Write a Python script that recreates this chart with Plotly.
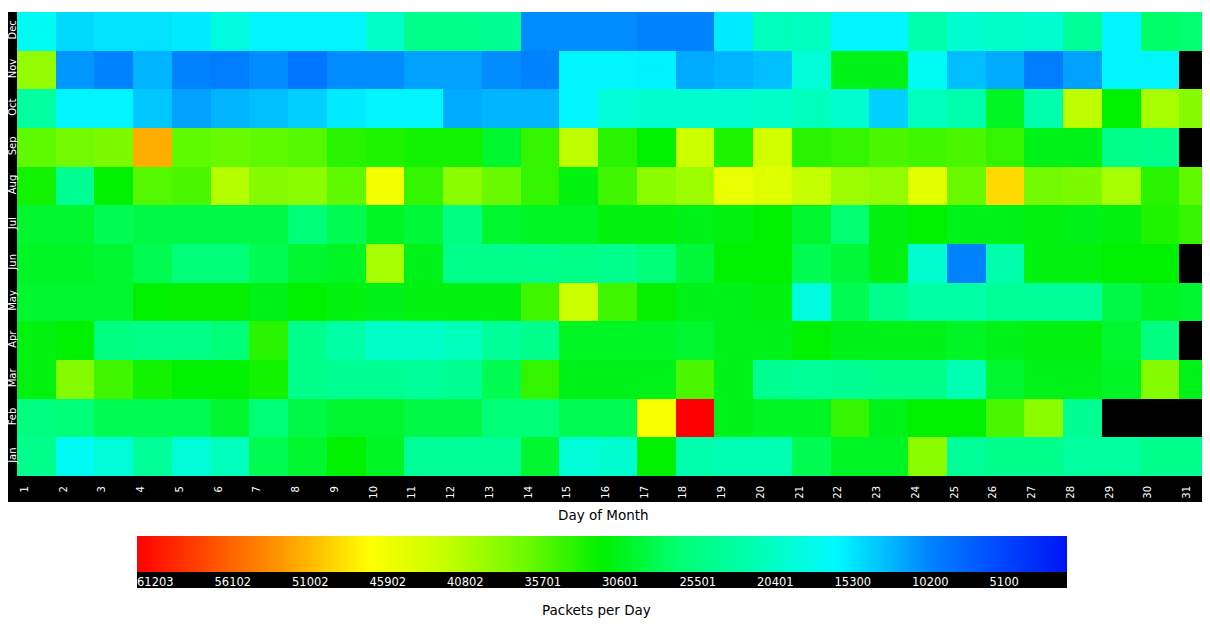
import numpy as np
import plotly.graph_objects as go

# page body has an 8px margin, so the figure is sized and positioned to compensate
OFF = 8
W, H = 1210 - OFF, 624 - OFF

months = ["Jan", "Feb", "Mar", "Apr", "May", "Jun", "Jul", "Aug", "Sep", "Oct", "Nov", "Dec"]
days = list(range(1, 32))
N = None

jan = [23500, 16000, 18000, 22500, 18000, 20000, 27000, 28500, 30500, 29000, 22500, 22500, 22500, 28500, 18000, 18500,
       30500, 21000, 20500, 20500, 27000, 29000, 29000, 37500, 22500, 23500, 23500, 22000, 22000, 23500, 23500]
feb = [24500, 25000, 27000, 27000, 27000, 28500, 25000, 27500, 28500, 28500, 27500, 27500, 25000, 25000, 27000, 27000,
       45500, 61203, 29500, 29000, 29000, 33000, 29500, 30500, 30500, 34000, 37500, 23000, N, N, N]
mar = [30000, 37000, 33500, 31500, 30500, 30500, 31500, 23500, 23000, 23000, 22500, 23000, 27000, 33000, 29500, 29500,
       29500, 34000, 29500, 23000, 22500, 23000, 23500, 23500, 20500, 28500, 29500, 29500, 29000, 37000, 29500]
apr = [30000, 30500, 24500, 24000, 24000, 25000, 32500, 23500, 21500, 19000, 19000, 20000, 22500, 23500, 29000, 29000,
       29000, 28500, 29500, 29500, 30500, 29500, 29500, 29500, 29000, 29500, 30000, 30000, 28500, 24500, N]
may = [28500, 28500, 28500, 30500, 30800, 30800, 29500, 30500, 30000, 29500, 30000, 30000, 30000, 33500, 41500, 33500,
       30800, 29500, 29500, 30000, 17500, 27000, 23500, 21500, 21500, 22500, 22500, 22500, 27500, 29000, 28500]
jun = [29000, 29000, 28500, 27000, 25000, 25000, 27000, 28500, 29000, 39000, 29500, 23500, 23500, 23500, 24000, 23500,
       25000, 28000, 30500, 30500, 27000, 28000, 30000, 18500, 9000, 21000, 30000, 30000, 30500, 30500, N]
jul = [28500, 28500, 27000, 27500, 27500, 27500, 27500, 25000, 27000, 29000, 28000, 24500, 28500, 29000, 29000, 30000,
       30000, 29500, 30000, 30500, 28500, 25500, 30000, 30500, 29500, 29500, 30000, 29500, 30000, 32000, 33000]
aug = [31500, 23000, 30600, 34500, 34000, 40000, 37000, 37500, 35000, 45000, 33000, 37500, 35500, 33000, 30000, 33500,
       37500, 38500, 44000, 43000, 41000, 38500, 38000, 43500, 35500, 48000, 36000, 36500, 39000, 32500, 35000]
sep = [35000, 36000, 36500, 50500, 35000, 35500, 35000, 34500, 32500, 32000, 31500, 31500, 28500, 33000, 40500, 32500,
       30600, 41500, 32000, 42000, 32500, 33000, 34000, 33500, 34000, 33000, 29500, 29500, 24000, 23500, N]
oct_ = [22000, 15000, 15000, 12500, 10500, 11500, 12000, 13000, 14500, 15000, 15000, 11000, 11500, 11500, 15000, 18000,
        18500, 18500, 18500, 19000, 20000, 18500, 13000, 20000, 21000, 29000, 21000, 40500, 30500, 39000, 37000]
nov = [38000, 10000, 9000, 11500, 9000, 8500, 9500, 8000, 9500, 9500, 10500, 10500, 9500, 9000, 15000, 15000,
       14800, 11000, 11500, 12000, 18000, 29500, 29500, 16000, 12000, 11000, 8500, 10500, 15000, 15000, N]
dec = [16000, 13500, 14000, 14000, 14500, 17500, 15000, 15000, 15000, 19000, 23500, 23500, 23000, 9500, 9500, 9500,
       9000, 9000, 14500, 20000, 19500, 15000, 15000, 21000, 18500, 19000, 18500, 22500, 15000, 26000, 25500]

z_rows = [jan, feb, mar, apr, may, jun, jul, aug, sep, oct_, nov, dec]

cb_ticks = [61203, 56102, 51002, 45902, 40802, 35701, 30601, 25501, 20401, 15300, 10200, 5100]
zmin, zmax = 0, 61203

colorscale = [
    [0.0, "rgb(0,20,245)"],
    [0.0833, "rgb(0,80,255)"],
    [0.147, "rgb(0,130,255)"],
    [0.196, "rgb(0,190,255)"],
    [0.25, "rgb(0,250,255)"],
    [0.333, "rgb(0,255,180)"],
    [0.4167, "rgb(0,255,115)"],
    [0.5, "rgb(0,240,0)"],
    [0.583, "rgb(110,250,0)"],
    [0.667, "rgb(195,255,0)"],
    [0.75, "rgb(255,255,0)"],
    [0.833, "rgb(255,165,0)"],
    [1.0, "rgb(255,0,0)"],
]

FONT = "DejaVu Sans"

fig = go.Figure()
fig.add_trace(go.Heatmap(
    z=z_rows, x=days, y=months, coloraxis="coloraxis",
    xaxis="x", yaxis="y", hoverongaps=False,
))

# gradient strip used as the horizontal legend bar
cb_vals = np.linspace(zmin, zmax, 600)
fig.add_trace(go.Heatmap(
    z=[cb_vals], x=cb_vals, y=[0], coloraxis="coloraxis",
    xaxis="x2", yaxis="y2", hoverinfo="skip",
))


def px(v):
    return (v - OFF) / W


def py(v):
    return 1 - (v - OFF) / H


fig.update_layout(
    width=W, height=H,
    margin=dict(l=0, r=0, t=0, b=0),
    paper_bgcolor="white", plot_bgcolor="black",
    showlegend=False,
    coloraxis=dict(colorscale=colorscale, cmin=zmin, cmax=zmax, showscale=False),
    xaxis=dict(
        domain=[px(17), 1.0], range=[0.5, 31.3], anchor="y",
        tickmode="array", tickvals=[d - 0.3 for d in days], ticktext=[str(d) for d in days],
        tickangle=-90, tickfont=dict(family=FONT, size=10, color="white"),
        ticks="", ticklabelstandoff=7, showgrid=False, zeroline=False, showline=False,
        automargin=False, fixedrange=True,
    ),
    yaxis=dict(
        domain=[py(476), py(12)], anchor="x",
        type="category", categoryorder="array", categoryarray=months,
        tickangle=-90, tickfont=dict(family=FONT, size=10, color="white"),
        ticks="", ticklabelstandoff=-2, showgrid=False, zeroline=False, showline=False,
        automargin=False, fixedrange=True,
    ),
    xaxis2=dict(
        domain=[px(137), px(1067)], range=[zmax, zmin], anchor="y2",
        tickmode="array", tickvals=cb_ticks, ticktext=[str(t) for t in cb_ticks],
        ticklabelposition="outside right",
        tickfont=dict(family=FONT, size=11.5, color="white"),
        ticks="", ticklabelstandoff=1, showgrid=False, zeroline=False, showline=False,
        automargin=False, fixedrange=True,
    ),
    yaxis2=dict(
        domain=[py(572), py(536)], anchor="x2", range=[-0.5, 0.5],
        showticklabels=False, ticks="", showgrid=False, zeroline=False, showline=False,
        automargin=False, fixedrange=True,
    ),
    shapes=[
        dict(type="rect", xref="paper", yref="paper", x0=px(7), x1=px(17), y0=py(502), y1=py(12),
             fillcolor="black", line=dict(width=0), layer="below"),
        dict(type="rect", xref="paper", yref="paper", x0=px(7), x1=1.0, y0=py(502), y1=py(476),
             fillcolor="black", line=dict(width=0), layer="below"),
        dict(type="rect", xref="paper", yref="paper", x0=px(137), x1=px(1067), y0=py(588), y1=py(572),
             fillcolor="black", line=dict(width=0), layer="below"),
    ],
    annotations=[
        dict(text="Day of Month", x=px(603), y=py(515), xref="paper", yref="paper",
             showarrow=False, xanchor="center", yanchor="middle",
             font=dict(family=FONT, size=13.5, color="black")),
        dict(text="Packets per Day", x=px(596), y=py(610), xref="paper", yref="paper",
             showarrow=False, xanchor="center", yanchor="middle",
             font=dict(family=FONT, size=13.5, color="black")),
    ],
)

fig.write_html("out.html")
